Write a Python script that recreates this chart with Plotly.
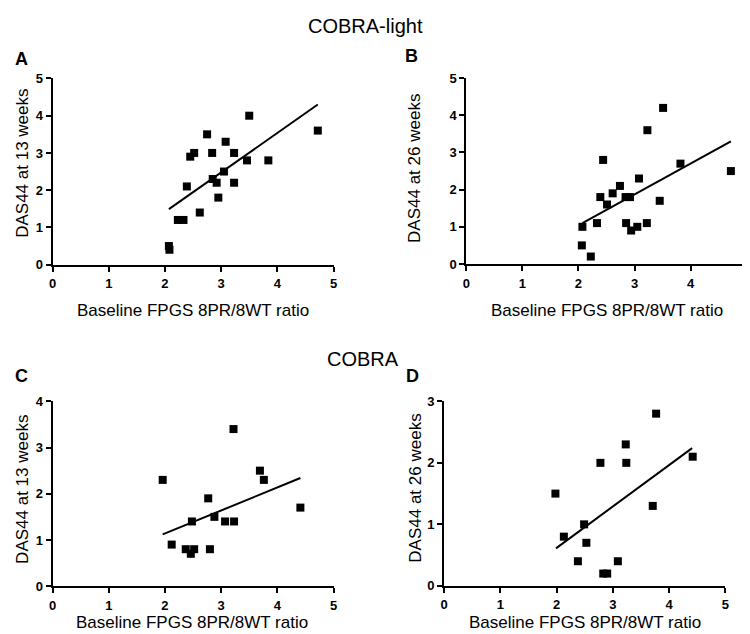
import plotly.graph_objects as go

# ---------------- data ----------------
# Panel A: COBRA-light, DAS44 at 13 weeks
a_x = [2.07, 2.08, 2.23, 2.33, 2.39, 2.45, 2.52, 2.62, 2.75, 2.84, 2.85, 2.92, 2.95, 3.05, 3.08, 3.23, 3.23, 3.46, 3.50, 3.84, 4.72]
a_y = [0.5, 0.4, 1.2, 1.2, 2.1, 2.9, 3.0, 1.4, 3.5, 3.0, 2.3, 2.2, 1.8, 2.5, 3.3, 3.0, 2.2, 2.8, 4.0, 2.8, 3.6]
a_fit_x = [2.07, 4.72]
a_fit_y = [1.49, 4.30]

# Panel B: COBRA-light, DAS44 at 26 weeks
b_x = [2.07, 2.06, 2.22, 2.33, 2.39, 2.44, 2.51, 2.61, 2.74, 2.84, 2.85, 2.92, 2.94, 3.05, 3.08, 3.22, 3.23, 3.45, 3.51, 3.82, 4.72]
b_y = [1.0, 0.5, 0.2, 1.1, 1.8, 2.8, 1.6, 1.9, 2.1, 1.8, 1.1, 1.8, 0.9, 1.0, 2.3, 1.1, 3.6, 1.7, 4.2, 2.7, 2.5]
b_fit_x = [2.07, 4.72]
b_fit_y = [1.10, 3.30]

# Panel C: COBRA, DAS44 at 13 weeks
c_x = [1.96, 2.12, 2.37, 2.46, 2.48, 2.52, 2.77, 2.80, 2.88, 3.07, 3.22, 3.23, 3.69, 3.76, 4.41]
c_y = [2.3, 0.9, 0.8, 0.7, 1.4, 0.8, 1.9, 0.8, 1.5, 1.4, 3.4, 1.4, 2.5, 2.3, 1.7]
c_fit_x = [1.96, 4.41]
c_fit_y = [1.12, 2.34]

# Panel D: COBRA, DAS44 at 26 weeks
d_x = [1.98, 2.13, 2.38, 2.49, 2.53, 2.78, 2.83, 2.90, 3.09, 3.23, 3.24, 3.71, 3.77, 4.42]
d_y = [1.5, 0.8, 0.4, 1.0, 0.7, 2.0, 0.2, 0.2, 0.4, 2.3, 2.0, 1.3, 2.8, 2.1]
d_fit_x = [1.99, 4.41]
d_fit_y = [0.61, 2.24]

x_title = "Baseline FPGS 8PR/8WT ratio"
y_titles = ["DAS44 at 13 weeks", "DAS44 at 26 weeks", "DAS44 at 13 weeks", "DAS44 at 26 weeks"]
panel_letters = ["A", "B", "C", "D"]
group_titles = ["COBRA-light", "COBRA"]
x_ticks = [0, 1, 2, 3, 4, 5]
y_tick_sets = [[0, 1, 2, 3, 4, 5], [0, 1, 2, 3, 4, 5], [0, 1, 2, 3, 4], [0, 1, 2, 3]]

# ---------------- layout helpers ----------------
W, H = 750, 634
FONT = "Liberation Sans, Arial, Helvetica, sans-serif"


def px(x):
    return x / W


def py(y):
    return 1 - y / H


# axis pixel boxes: (x_left, x_right, y_bottom, y_top)
boxes = [
    (41, 325, 255.7, 65),
    (459.3, 742.5, 255, 64.7),
    (41, 325, 585, 395.7),
    (436.7, 721, 584.7, 395.7),
]

datasets = [
    (a_x, a_y, a_fit_x, a_fit_y),
    (b_x, b_y, b_fit_x, b_fit_y),
    (c_x, c_y, c_fit_x, c_fit_y),
    (d_x, d_y, d_fit_x, d_fit_y),
]

fig = go.Figure()
layout = dict(
    width=W, height=H,
    margin=dict(l=0, r=0, t=0, b=0),
    paper_bgcolor="white", plot_bgcolor="white",
    showlegend=False,
    font=dict(family=FONT, color="black"),
)

for i, ((xs, ys, fx, fy), box, yt) in enumerate(zip(datasets, boxes, y_tick_sets)):
    n = "" if i == 0 else str(i + 1)
    xa, ya = "x" + n, "y" + n
    fig.add_trace(go.Scatter(x=fx, y=fy, mode="lines", xaxis=xa, yaxis=ya,
                             line=dict(color="black", width=2), cliponaxis=False))
    fig.add_trace(go.Scatter(x=xs, y=ys, mode="markers", xaxis=xa, yaxis=ya,
                             marker=dict(symbol="square", size=8, color="black"),
                             cliponaxis=False))
    xl, xr, yb, ytp = box
    common = dict(showgrid=False, zeroline=False, showline=True, linecolor="black",
                  linewidth=2, ticks="outside", ticklen=5, tickwidth=2, tickcolor="black",
                  tickfont=dict(family=FONT, size=13, color="black"),
                  fixedrange=True)
    layout["xaxis" + n] = dict(domain=[px(xl), px(xr)], range=[0, 5], tickvals=x_ticks,
                               ticktext=["<b>%d</b>" % v for v in x_ticks],
                               anchor=ya, ticklabelstandoff=1, **common)
    layout["yaxis" + n] = dict(domain=[py(yb), py(ytp)], range=[0, yt[-1]], tickvals=yt,
                               ticktext=["<b>%d</b>" % v for v in yt],
                               anchor=xa, ticklabelstandoff=0, **common)

annotations = []
# group titles
annotations.append(dict(text=group_titles[0], x=px(357.5), y=py(11), xref="paper", yref="paper",
                        showarrow=False, font=dict(size=20, family=FONT, color="black"),
                        xanchor="center", yanchor="middle"))
annotations.append(dict(text=group_titles[1], x=px(355), y=py(352), xref="paper", yref="paper",
                        showarrow=False, font=dict(size=20, family=FONT, color="black"),
                        xanchor="center", yanchor="middle"))
# panel letters
letter_pos = [(10, 45), (404, 42), (10, 370), (405, 370)]
for L, (lx, ly) in zip(panel_letters, letter_pos):
    annotations.append(dict(text="<b>%s</b>" % L, x=px(lx), y=py(ly), xref="paper", yref="paper",
                            showarrow=False, font=dict(size=18, family=FONT, color="black"),
                            xanchor="center", yanchor="middle"))
# y titles
ytitle_pos = [(10.5, 152), (407.5, 157.5), (10.5, 486), (407.5, 485)]
for t, (tx, ty) in zip(y_titles, ytitle_pos):
    annotations.append(dict(text=t, x=px(tx), y=py(ty), xref="paper", yref="paper",
                            showarrow=False, textangle=-90,
                            font=dict(size=17, family=FONT, color="black"),
                            xanchor="center", yanchor="middle"))
# x titles
xtitle_pos = [(182.5, 302.7), (601.5, 302.7), (182, 622.5), (579.5, 622.5)]
for (tx, ty) in xtitle_pos:
    annotations.append(dict(text=x_title, x=px(tx), y=py(ty), xref="paper", yref="paper",
                            showarrow=False, font=dict(size=17, family=FONT, color="black"),
                            xanchor="center", yanchor="middle"))

layout["annotations"] = annotations
fig.update_layout(**layout)
fig.write_html("out.html")
